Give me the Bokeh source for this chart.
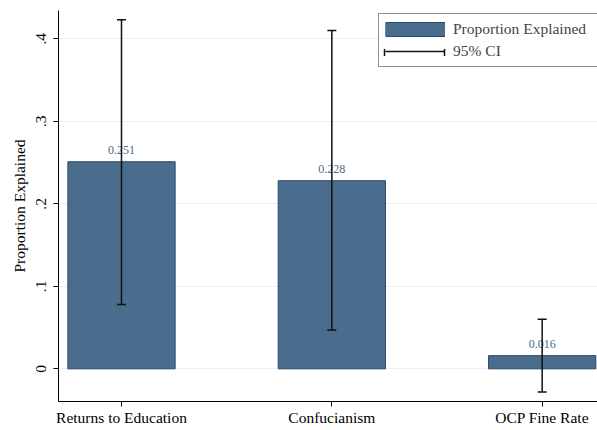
from bokeh.plotting import figure
from bokeh.models import (ColumnDataSource, Range1d, FixedTicker, CustomJSTickFormatter,
                          Whisker, TeeHead, Legend, LegendItem, BoxAnnotation)
from bokeh.core.properties import value
from bokeh.embed import file_html
from bokeh.resources import INLINE

# ---- data ----
categories = ["Returns to Education", "Confucianism", "OCP Fine Rate"]
proportion = [0.251, 0.228, 0.016]
ci_lower = [0.078, 0.047, -0.028]
ci_upper = [0.423, 0.410, 0.060]
y_ticks = [0, 0.1, 0.2, 0.3, 0.4]
y_tick_labels = ["0", ".1", ".2", ".3", ".4"]
series_label = "Proportion Explained"
ci_label = "95% CI"

# ---- style / layout ----
BAR_FILL = "#4a6d8e"
BAR_LINE = "#284a6b"
CI_COLOR = "#111111"
GRID = "#e9f0f3"
FONT = "Liberation Serif"
FS = "15.5px"
W, H = 597, 430
BL, BR, BT, BB = 58, 0, 10, 29
X0, X1 = -0.2995, 2.263
Y0, Y1 = -0.0396, 0.4343

xpos = list(range(len(categories)))
src = ColumnDataSource(dict(x=xpos, val=proportion, lo=ci_lower, hi=ci_upper,
                            lab=[f"{v:.3f}" for v in proportion]))

p = figure(width=W, height=H, output_backend="svg", toolbar_location=None,
           x_range=Range1d(X0, X1), y_range=Range1d(Y0, Y1),
           min_border_left=BL, min_border_right=BR, min_border_top=BT, min_border_bottom=BB)
p.outline_line_color = None
p.background_fill_color = "white"
p.border_fill_color = "white"

# axes
p.xaxis.ticker = FixedTicker(ticks=xpos)
p.xaxis.formatter = CustomJSTickFormatter(args=dict(cat_labels=categories), code="""
const i = Math.round(tick);
return (i >= 0 && i < cat_labels.length) ? cat_labels[i] : '';
""")
p.yaxis.ticker = FixedTicker(ticks=y_ticks)
p.yaxis.formatter = CustomJSTickFormatter(args=dict(yt=y_ticks, yl=y_tick_labels), code="""
for (let i = 0; i < yt.length; i++) { if (Math.abs(yt[i] - tick) < 1e-9) return yl[i]; }
return '';
""")
p.yaxis.major_label_orientation = "vertical"
p.yaxis.axis_label = series_label
for ax in (p.xaxis, p.yaxis):
    ax.axis_line_color = "black"
    ax.axis_line_width = 1
    ax.major_tick_line_color = "black"
    ax.major_tick_out = 5
    ax.major_tick_in = 0
    ax.minor_tick_line_color = None
    ax.major_label_text_font = FONT
    ax.major_label_text_font_size = FS
    ax.major_label_text_color = "black"
    ax.axis_label_text_font = FONT
    ax.axis_label_text_font_size = FS
    ax.axis_label_text_font_style = "normal"
    ax.axis_label_text_color = "black"
p.xaxis.major_label_standoff = 2
p.yaxis.major_label_standoff = 7
p.yaxis.axis_label_standoff = 6

p.xgrid.visible = False
p.ygrid.grid_line_color = GRID
p.ygrid.grid_line_width = 1

# legend geometry (frame pixels) and helpers to convert to data units
LEG_X, LEG_Y, LEG_PAD, ROW_H, GLYPH_W, LEG_SP = 320, 334, 6, 18, 60, 4
LEG_H = 2 * LEG_PAD + 2 * ROW_H + LEG_SP
frame_w, frame_h = W - BL - BR, H - BT - BB
def fx(px): return X0 + px / frame_w * (X1 - X0)
def fy(py): return Y0 + py / frame_h * (Y1 - Y0)

# white backing behind the legend (hides the grid line there)
p.add_layout(BoxAnnotation(left=fx(LEG_X), right=fx(frame_w), bottom=fy(LEG_Y),
                           top=fy(LEG_Y + LEG_H), fill_color="white", fill_alpha=1,
                           line_alpha=0, level="glyph"))

# bars
p.vbar(x="x", top="val", bottom=0, width=0.51, source=src,
       fill_color=BAR_FILL, line_color=BAR_LINE, line_width=1)

# value labels
p.text(x="x", y="val", text="lab", source=src, text_align="center",
       text_baseline="alphabetic", y_offset=-12, text_font=value(FONT),
       text_font_size="12px", text_color=BAR_FILL)

# confidence intervals
ci = p.segment(x0="x", y0="lo", x1="x", y1="hi", source=src,
               line_color=CI_COLOR, line_width=1.5)
whisk = Whisker(base="x", lower="lo", upper="hi", source=src, dimension="height",
                line_alpha=0, level="annotation",
                upper_head=TeeHead(size=9, line_width=1.5, line_color=CI_COLOR),
                lower_head=TeeHead(size=9, line_width=1.5, line_color=CI_COLOR))
p.add_layout(whisk)

# legend key renderers (no data drawn)
nan = float("nan")
key_src = ColumnDataSource(dict(a=[nan], b=[nan]))
key_edge = p.segment(x0="a", y0="b", x1="a", y1="b", source=key_src,
                     line_color=BAR_LINE, line_width=15, line_cap="butt")
key_fill = p.segment(x0="a", y0="b", x1="a", y1="b", source=key_src,
                     line_color=BAR_FILL, line_width=13, line_cap="butt")

legend = Legend(items=[LegendItem(label=series_label, renderers=[key_edge, key_fill]),
                       LegendItem(label=ci_label, renderers=[ci])],
                location=(LEG_X, LEG_Y), padding=LEG_PAD, spacing=LEG_SP, margin=0,
                glyph_width=GLYPH_W, glyph_height=ROW_H, label_height=ROW_H,
                label_standoff=8, label_width=150,
                label_text_font=FONT, label_text_font_size=FS,
                border_line_color="#222222", border_line_width=1,
                background_fill_alpha=0)
p.add_layout(legend)

# end caps of the legend's CI key
cap_src = ColumnDataSource(dict(b=[fy(LEG_Y + LEG_PAD + ROW_H / 2)],
                                l=[fx(LEG_X + LEG_PAD)], u=[fx(LEG_X + LEG_PAD + GLYPH_W)]))
p.add_layout(Whisker(base="b", lower="l", upper="u", source=cap_src, dimension="width",
                     line_alpha=0, level="overlay",
                     upper_head=TeeHead(size=7, line_width=1.5, line_color=CI_COLOR),
                     lower_head=TeeHead(size=7, line_width=1.5, line_color=CI_COLOR)))

open("out.html", "w").write(file_html(p, INLINE))
